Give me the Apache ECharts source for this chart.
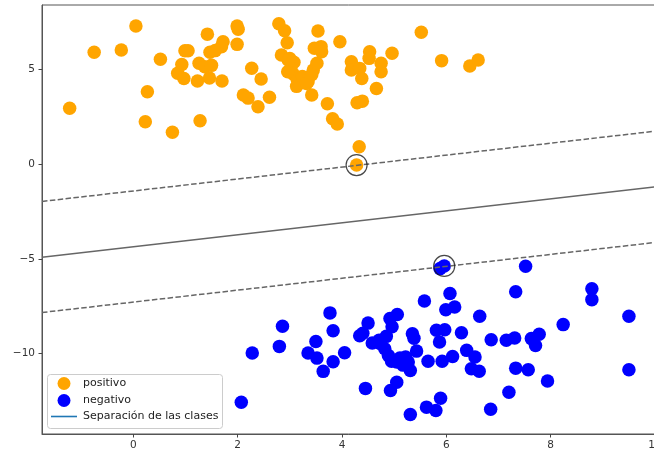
<!DOCTYPE html>
<html>
<head>
<meta charset="utf-8">
<script src="https://cdn.jsdelivr.net/npm/echarts@6/dist/echarts.min.js"></script>
<style>
  html, body { margin: 0; padding: 0; background: #fff; }
  #chart { width: 654px; height: 454px; }
</style>
</head>
<body>
<div id="chart"></div>
<script>
// Class "positivo" samples (x, y)
const positivo = [
  [-1.22, 2.95], [-0.75, 5.91], [-0.23, 6.03], [0.05, 7.30], [0.52, 5.54],
  [0.27, 3.83], [0.23, 2.24], [0.75, 1.69], [1.28, 2.29], [0.99, 5.99],
  [1.05, 5.99], [0.93, 5.27], [0.85, 4.80], [0.97, 4.53], [1.23, 4.39],
  [1.26, 5.33], [1.42, 6.87], [1.47, 5.91], [1.57, 6.00], [1.37, 5.15],
  [1.50, 5.22], [1.46, 4.55], [1.70, 4.39], [1.69, 6.21], [1.72, 6.47],
  [1.99, 7.30], [2.01, 7.13], [1.99, 6.33], [2.27, 5.07], [2.45, 4.50],
  [2.11, 3.65], [2.20, 3.49], [2.39, 3.03], [2.61, 3.54], [2.79, 7.42],
  [2.90, 7.05], [2.95, 6.42], [2.84, 5.77], [2.97, 5.50], [3.08, 5.38],
  [3.02, 5.06], [3.07, 4.75], [3.14, 4.50], [3.13, 4.11], [3.28, 4.55],
  [3.35, 4.35], [3.42, 3.65], [3.45, 4.97], [3.52, 5.33], [3.54, 7.04],
  [3.47, 6.12], [3.60, 6.21], [3.61, 5.94], [3.72, 3.19], [3.82, 2.40],
  [3.91, 2.12], [3.96, 6.47], [4.53, 5.94], [4.52, 5.59], [4.18, 5.41],
  [4.18, 4.97], [4.34, 5.06], [4.38, 4.53], [4.75, 5.33], [4.75, 4.88],
  [4.96, 5.86], [4.66, 4.00], [4.29, 3.24], [4.39, 3.33], [4.33, 0.92],
  [4.28, -0.05], [5.52, 6.97], [5.91, 5.47], [6.45, 5.19], [6.61, 5.50],
  [3.00, 5.58], [3.24, 4.63], [3.42, 4.72], [3.32, 4.26], [2.96, 4.88]
];

// Class "negativo" samples (x, y)
const negativo = [
  [2.07, -12.58], [2.28, -9.98], [2.86, -8.57], [2.80, -9.63], [3.50, -9.37],
  [3.35, -9.98], [3.52, -10.25], [3.64, -10.95], [3.77, -7.86], [3.83, -8.80],
  [3.83, -10.44], [4.05, -9.97], [4.34, -9.07], [4.50, -8.40], [4.58, -9.45],
  [4.45, -11.85], [5.96, -5.38], [5.88, -5.52], [7.52, -5.40], [6.07, -6.84],
  [7.33, -6.74], [8.79, -6.58], [8.79, -7.16], [5.58, -7.23], [5.99, -7.69],
  [6.16, -7.55], [4.92, -8.16], [5.06, -7.94], [4.96, -8.59], [6.64, -8.04],
  [8.24, -8.48], [9.50, -8.04], [4.71, -9.31], [4.85, -9.10], [4.82, -9.75],
  [4.89, -10.11], [4.95, -10.41], [5.05, -10.46], [5.22, -10.19], [5.27, -10.46],
  [5.31, -10.90], [5.35, -8.96], [5.38, -9.20], [5.43, -9.88], [5.65, -10.42],
  [5.81, -8.78], [5.97, -8.75], [5.87, -9.40], [5.92, -10.42], [6.12, -10.16],
  [6.29, -8.91], [6.39, -9.84], [6.55, -10.19], [6.48, -10.81], [6.63, -10.94],
  [6.86, -9.28], [7.15, -9.31], [7.31, -9.19], [7.63, -9.22], [7.78, -8.99],
  [7.71, -9.58], [7.33, -10.78], [7.57, -10.86], [7.94, -11.46], [9.50, -10.86],
  [7.20, -12.05], [4.93, -11.96], [5.05, -11.52], [5.62, -12.84], [5.80, -13.02],
  [5.89, -12.37], [5.31, -13.23], [6.85, -12.95], [5.11, -10.24], [5.24, -10.55],
  [4.73, -9.47], [5.14, -10.27], [5.17, -10.62], [4.40, -8.94]
];

// Support vectors (circled)
const supportVectors = [[4.28, -0.05], [5.96, -5.38]];

// Separating hyperplane and margins, given at the two x extremes
const lineX = [-1.75, 10];
const boundaryY = [-4.92, -1.20];
const upperMarginY = [-1.97, 1.74];
const lowerMarginY = [-7.84, -4.14];

const xTicks = [0, 2, 4, 6, 8, 10];
const yTicks = [-10, -5, 0, 5];

const labels = ['positivo', 'negativo', 'Separación de las clases'];

const toLine = ys => lineX.map((x, i) => [x, ys[i]]);
const fmt = v => String(v).replace('-', '\u2212');
const FONT = 'DejaVu Sans';

const chart = echarts.init(document.getElementById('chart'), null, { renderer: 'canvas' });

chart.setOption({
  animation: false,
  backgroundColor: '#ffffff',
  textStyle: { fontFamily: FONT },
  grid: {
    left: 42, top: 5, right: -1, bottom: 20,
    outerBoundsMode: 'none',
    containLabel: false,
    show: true, borderColor: '#555', borderWidth: 1, backgroundColor: 'transparent'
  },
  xAxis: {
    type: 'value', min: -1.75, max: 10,
    axisLine: { show: true, onZero: false, lineStyle: { color: '#555', width: 1 } },
    axisTick: { show: true, inside: false, length: 3.5, customValues: xTicks, lineStyle: { color: '#444' } },
    axisLabel: { customValues: xTicks, formatter: fmt, color: '#333', fontSize: 10.5, fontFamily: FONT, margin: 6 },
    splitLine: { show: false }
  },
  yAxis: {
    type: 'value', min: -14.26, max: 8.41,
    axisLine: { show: true, onZero: false, lineStyle: { color: '#555', width: 1 } },
    axisTick: { show: true, inside: false, length: 3.5, customValues: yTicks, lineStyle: { color: '#444' } },
    axisLabel: { customValues: yTicks, formatter: fmt, color: '#333', fontSize: 10.5, fontFamily: FONT, margin: 7 },
    splitLine: { show: false }
  },
  legend: {
    orient: 'vertical',
    left: 51, top: 377,
    itemWidth: 26, itemHeight: 13, itemGap: 4,
    padding: 0,
    z: 10,
    symbolKeepAspect: true,
    textStyle: { fontSize: 11, color: '#222', fontFamily: FONT, padding: [0, 0, 0, 1] },
    data: [
      { name: labels[0], icon: 'circle' },
      { name: labels[1], icon: 'circle' },
      { name: labels[2], icon: 'path://M0,0H26V1.6H0Z', itemStyle: { color: '#1f77b4' } }
    ]
  },
  graphic: [{
    type: 'rect',
    shape: { x: 47.5, y: 374.5, width: 175, height: 54, r: 3 },
    style: { fill: 'rgba(255,255,255,0.8)', stroke: '#cccccc', lineWidth: 1 },
    z: 5, silent: true
  }],
  series: [
    {
      name: labels[0], type: 'scatter', data: positivo,
      symbol: 'circle', symbolSize: 13.5,
      itemStyle: { color: '#FFA500', opacity: 1 }, z: 2
    },
    {
      name: labels[1], type: 'scatter', data: negativo,
      symbol: 'circle', symbolSize: 13.5,
      itemStyle: { color: '#0000FF', opacity: 1 }, z: 2
    },
    {
      name: 'vectores de soporte', type: 'scatter', data: supportVectors,
      symbol: 'circle', symbolSize: 21,
      itemStyle: { color: 'rgba(0,0,0,0)', borderColor: '#1a1a1a', borderWidth: 1.2 }, z: 4
    },
    {
      name: labels[2], type: 'line', data: toLine(boundaryY),
      symbol: 'none', lineStyle: { color: '#666', width: 1.5 }, z: 3
    },
    {
      name: 'margen superior', type: 'line', data: toLine(upperMarginY),
      symbol: 'none', lineStyle: { color: '#666', width: 1.5, type: [5.5, 2.4] }, z: 3
    },
    {
      name: 'margen inferior', type: 'line', data: toLine(lowerMarginY),
      symbol: 'none', lineStyle: { color: '#666', width: 1.5, type: [5.5, 2.4] }, z: 3
    }
  ]
});
</script>
</body>
</html>
